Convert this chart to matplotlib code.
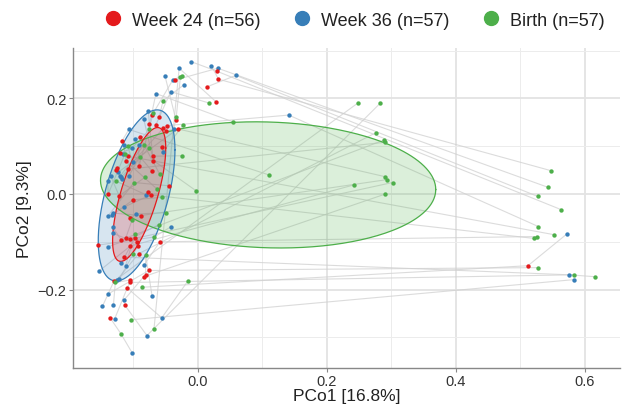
import numpy as np
import matplotlib
matplotlib.use("Agg")
import matplotlib.pyplot as plt
from matplotlib.lines import Line2D

plt.rcParams['font.family'] = ['Liberation Sans', 'DejaVu Sans']

groups = ["Week 24 (n=56)", "Week 36 (n=57)", "Birth (n=57)"]
colors = ["#E41A1C", "#377EB8", "#4DAF4A"]

red_x = [0.029, 0.032, -0.036, 0.014, 0.028, -0.034, -0.071, -0.060, -0.065, -0.075,
         -0.048, -0.049, -0.056, -0.070, -0.069, -0.118, -0.090, -0.111, -0.091, -0.120,
         -0.109, -0.054, -0.031, -0.125, -0.127, -0.108, -0.071, -0.139, -0.122, -0.078,
         -0.073, -0.044, -0.100, -0.088, -0.105, -0.119, -0.112, -0.105, -0.098, -0.094,
         -0.059, -0.155, -0.105, -0.093, -0.092, -0.076, -0.081, -0.084, -0.130, -0.105,
         -0.106, -0.110, -0.113, -0.136, 0.512, -0.115]
red_y = [0.257, 0.240, 0.238, 0.224, 0.193, 0.155, 0.165, 0.160, 0.145, 0.146,
         0.143, 0.131, 0.098, 0.079, 0.070, 0.110, 0.119, 0.068, 0.059, 0.085,
         0.079, 0.137, 0.136, 0.055, 0.051, 0.052, 0.048, 0.000, -0.004, 0.005,
         -0.002, 0.017, -0.012, -0.045, -0.050, -0.096, -0.093, -0.094, -0.093, -0.100,
         -0.100, -0.107, -0.109, -0.109, -0.125, -0.160, -0.169, -0.173, -0.182, -0.180,
         -0.185, -0.196, -0.233, -0.259, -0.150, -0.132]

blue_x = [-0.011, 0.021, 0.031, 0.059, -0.029, -0.051, -0.039, -0.022, -0.042, -0.065,
          0.141, -0.037, -0.054, -0.077, -0.084, -0.107, -0.097, -0.115, -0.092, -0.102,
          -0.116, -0.101, -0.124, -0.120, -0.119, -0.117, -0.107, -0.140, -0.135, -0.080,
          -0.114, -0.140, -0.133, -0.131, -0.096, -0.132, -0.132, -0.139, -0.119, -0.112,
          -0.083, -0.041, -0.153, -0.122, -0.125, -0.139, -0.071, -0.114, -0.148, -0.131,
          -0.129, -0.056, -0.079, -0.102, 0.572, 0.576, 0.584]
blue_y = [0.277, 0.268, 0.263, 0.248, 0.263, 0.247, 0.238, 0.228, 0.214, 0.210,
          0.165, 0.136, 0.088, 0.173, 0.157, 0.135, 0.114, 0.103, 0.102, 0.096,
          0.084, 0.066, 0.045, 0.038, 0.035, 0.031, 0.038, 0.027, 0.037, -0.002,
          -0.027, -0.047, -0.044, -0.040, -0.042, -0.069, -0.082, -0.110, -0.145, -0.150,
          -0.148, -0.068, -0.161, -0.178, -0.179, -0.209, -0.213, -0.221, -0.235, -0.233,
          -0.261, -0.259, -0.296, -0.332, -0.084, -0.169, -0.179]

green_x = [-0.027, -0.024, -0.054, 0.018, 0.248, 0.283, 0.054, -0.034, -0.023, 0.276,
           0.289, 0.290, -0.024, 0.110, 0.291, 0.293, 0.302, 0.242, 0.291, -0.003,
           -0.059, -0.063, -0.069, -0.075, -0.109, -0.084, -0.076, -0.090, -0.113, -0.082,
           -0.127, -0.099, -0.056, -0.049, -0.102, -0.060, -0.098, -0.068, -0.100, -0.081,
           -0.128, -0.016, -0.086, -0.103, -0.119, -0.068, 0.547, 0.543, 0.527, 0.564,
           0.528, 0.552, 0.522, 0.526, 0.527, 0.584, 0.616]
green_y = [0.245, 0.247, 0.195, 0.190, 0.190, 0.190, 0.151, 0.160, 0.144, 0.128,
           0.113, 0.108, 0.080, 0.040, 0.036, 0.030, 0.024, 0.019, 0.000, 0.007,
           0.041, 0.010, 0.170, 0.135, 0.101, 0.102, 0.096, 0.078, 0.084, 0.035,
           0.027, 0.024, -0.007, -0.039, -0.054, -0.064, -0.084, -0.090, -0.125, -0.127,
           -0.185, -0.183, -0.195, -0.263, -0.293, -0.282, 0.049, 0.014, -0.005, -0.033,
           -0.068, -0.085, -0.093, -0.089, -0.154, -0.169, -0.173]

# subject identifiers (pairing of samples across time points)
red_subj = list(range(56))
blue_subj = list(range(57))
green_subj = [5, 6, 7, 8, 48, 52, 9, 11, 12, 44, 35, 25, 13, 15, 22, 33, 38, 42, 47, 14,
              16, 17, 18, 19, 21, 23, 24, 26, 27, 28, 29, 31, 32, 34, 36, 37, 39, 41, 43, 46,
              49, 51, 54, 56, 53, 4, 1, 2, 3, 0, 10, 20, 30, 40, 45, 50, 55]

# 95% ellipse parameters: centre, covariance (xx, yy, xy)
ell_center = [(-0.091, -0.001), (-0.095, -0.003), (0.109, 0.019)]
ell_cov = [(0.0017, 0.0196, 0.00400), (0.00354, 0.0320, 0.00567), (0.0676, 0.0174, -0.0025)]

xs = [red_x, blue_x, green_x]
ys = [red_y, blue_y, green_y]
subs = [red_subj, blue_subj, green_subj]

fig = plt.figure(figsize=(6.22, 4.06), dpi=100)
ax = fig.add_axes([0.117, 0.091, 0.880, 0.788])

# connecting lines per subject
paths = {}
for gx, gy, gs in zip(xs, ys, subs):
    for x, y, s in zip(gx, gy, gs):
        paths.setdefault(s, []).append((x, y))
for s, pts in paths.items():
    pts = sorted(pts)
    ax.plot([p[0] for p in pts], [p[1] for p in pts], color="#d0d0d0", lw=0.8,
            alpha=0.75, zorder=2, solid_capstyle='round')

# ellipses (green first, then blue, then red)
t = np.linspace(0, 2 * np.pi, 300)
for i in [2, 1, 0]:
    cx, cy = ell_center[i]
    sxx, syy, sxy = ell_cov[i]
    L = np.linalg.cholesky(np.array([[sxx, sxy], [sxy, syy]]))
    pts = L @ np.vstack([np.cos(t), np.sin(t)])
    ex, ey = pts[0] + cx, pts[1] + cy
    ax.fill(ex, ey, color=colors[i], alpha=0.2, lw=0, zorder=3)
    ax.plot(ex, ey, color=colors[i], lw=0.9, zorder=4)

# points
for i in [1, 0, 2]:
    ax.scatter(xs[i], ys[i], s=10, color=colors[i], zorder=5, linewidths=0)

ax.set_xlim(-0.194, 0.655)
ax.set_ylim(-0.364, 0.305)
ax.set_xticks([0.0, 0.2, 0.4, 0.6])
ax.set_xticklabels(["0.0", "0.2", "0.4", "0.6"])
ax.set_yticks([-0.2, 0.0, 0.2])
ax.set_yticklabels(["\u22120.2", "0.0", "0.2"])
ax.set_xticks([-0.1, 0.1, 0.3, 0.5], minor=True)
ax.set_yticks([-0.3, -0.1, 0.1, 0.3], minor=True)
ax.grid(which='major', color="#e3e3e3", lw=1.3, zorder=0)
ax.grid(which='minor', color="#ececec", lw=0.7, zorder=0)
ax.set_axisbelow(True)
for side in ['top', 'right']:
    ax.spines[side].set_visible(False)
for side in ['left', 'bottom']:
    ax.spines[side].set_color("#888888")
    ax.spines[side].set_linewidth(1.0)
ax.tick_params(which='major', length=3, width=0.8, color="#888888", labelsize=10.5,
               labelcolor="#333333", pad=1.5)
ax.tick_params(which='minor', length=0)
ax.set_xlabel("PCo1 [16.8%]", fontsize=12.5, color="#222222", labelpad=0)
ax.set_ylabel("PCo2 [9.3%]", fontsize=12.5, color="#222222", labelpad=4)

handles = [Line2D([0], [0], marker='o', ls='', markersize=10, markerfacecolor=c,
                  markeredgecolor=c) for c in colors]
fig.legend(handles, groups, loc='center', bbox_to_anchor=(0.563, 0.948), ncol=3,
           frameon=False, fontsize=13, handletextpad=0.05, columnspacing=1.3,
           labelcolor="#222222")

fig.savefig("out.png", dpi=100)
